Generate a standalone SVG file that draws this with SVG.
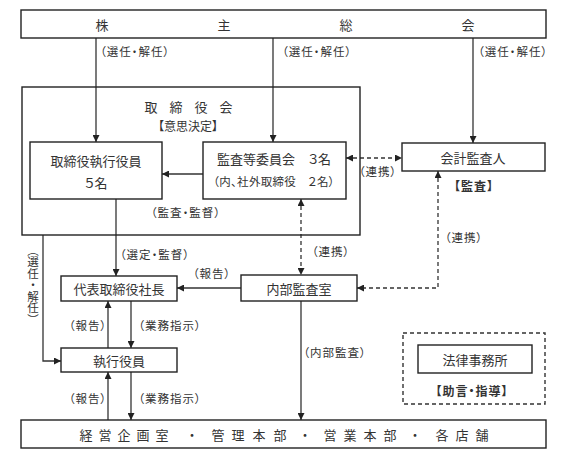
<svg xmlns="http://www.w3.org/2000/svg" width="570" height="466" viewBox="0 0 570 466">
<defs>
<style>
text{font-family:"Noto Sans CJK JP","Noto Sans CJK SC",sans-serif;fill:#333;dominant-baseline:central;font-feature-settings:"palt"}
.box{fill:#fff;stroke:#222;stroke-width:1.4}
.dbox{fill:none;stroke:#333;stroke-width:1.4;stroke-dasharray:4 3}
.t{font-size:13px;text-anchor:middle}
.l{font-size:11.5px;text-anchor:middle;letter-spacing:1px}
.b{font-size:12px;text-anchor:middle;font-weight:bold;letter-spacing:1px}
.ln{fill:none;stroke:#333;stroke-width:1.3}
.dl{fill:none;stroke:#333;stroke-width:1.3;stroke-dasharray:4 3}
.v{writing-mode:vertical-rl;font-feature-settings:normal;letter-spacing:0}
</style>
<marker id="ah" viewBox="0 0 10 10" refX="10" refY="5" markerWidth="8" markerHeight="7" markerUnits="userSpaceOnUse" orient="auto-start-reverse">
<path d="M0,0 L10,5 L0,10 z" fill="#222"/>
</marker>
</defs>
<rect width="570" height="466" fill="#fff"/>

<g id="connectors">
<path class="ln" d="M96,38 V142" marker-end="url(#ah)"/>
<path class="ln" d="M273,38 V142" marker-end="url(#ah)"/>
<path class="ln" d="M473,38 V143" marker-end="url(#ah)"/>
<path class="ln" d="M203,174 H162" marker-end="url(#ah)"/>
<path class="ln" d="M116,199 V276" marker-end="url(#ah)"/>
<path class="ln" d="M241,288 H177" marker-end="url(#ah)"/>
<path class="ln" d="M43,235 V361 H61" marker-end="url(#ah)"/>
<path class="ln" d="M108,348 V301" marker-end="url(#ah)"/>
<path class="ln" d="M131,301 V348" marker-end="url(#ah)"/>
<path class="ln" d="M108,420 V372" marker-end="url(#ah)"/>
<path class="ln" d="M131,372 V420" marker-end="url(#ah)"/>
<path class="ln" d="M301,301 V420" marker-end="url(#ah)"/>
<path class="dl" d="M346,158 H402" marker-start="url(#ah)" marker-end="url(#ah)"/>
<path class="dl" d="M301,199 V275" marker-start="url(#ah)" marker-end="url(#ah)"/>
<path class="dl" d="M438,171 V288 H357" marker-start="url(#ah)" marker-end="url(#ah)"/>
<text class="l" x="100" y="51" style="text-anchor:start">（選任・解任）</text>
<text class="l" x="282" y="51" style="text-anchor:start">（選任・解任）</text>
<text class="l" x="478" y="51" style="text-anchor:start">（選任・解任）</text>
<text class="l" x="186" y="212">（監査・監督）</text>
<text class="l" x="378" y="171">（連携）</text>
<text class="l" x="331" y="251">（連携）</text>
<text class="l" x="464" y="237">（連携）</text>
<text class="l" x="155" y="254">（選定・監督）</text>
<text class="l" x="212" y="273">（報告）</text>
<text class="l v" x="33" y="285">（選任・解任）</text>
<text class="l" x="88" y="325">（報告）</text>
<text class="l" x="170" y="325">（業務指示）</text>
<text class="l" x="88" y="398">（報告）</text>
<text class="l" x="170" y="398">（業務指示）</text>
<text class="l" x="335" y="352">（内部監査）</text>
</g>

<g id="shareholders">
<rect class="box" x="21" y="10" width="525" height="28"/>
<text class="t" x="102 224 346 468" y="24">株主総会</text>
</g>

<g id="board">
<rect class="box" x="22" y="87" width="338" height="148" style="fill:none"/>
<text class="t" x="151 176 201 226" y="106">取締役会</text>
<text class="l" x="188" y="125" style="font-size:12px;letter-spacing:0">【意思決定】</text>
</g>

<g id="exec-directors">
<rect class="box" x="30" y="142" width="132" height="57"/>
<text class="t" x="96" y="160">取締役執行役員</text>
<text class="t" x="96" y="182">５名</text>
</g>

<g id="audit-committee">
<rect class="box" x="203" y="142" width="143" height="57"/>
<text class="t" x="274" y="158">監査等委員会　３名</text>
<text class="l" x="274" y="181" style="letter-spacing:0.3px">（内、社外取締役　２名）</text>
</g>

<g id="accounting-auditor">
<rect class="box" x="402" y="143" width="143" height="28"/>
<text class="t" x="473" y="157">会計監査人</text>
<text class="b" x="474" y="185">【監査】</text>
</g>

<g id="president">
<rect class="box" x="61" y="276" width="116" height="25"/>
<text class="t" x="119" y="288.5">代表取締役社長</text>
</g>

<g id="internal-audit">
<rect class="box" x="241" y="275" width="116" height="26"/>
<text class="t" x="299" y="288">内部監査室</text>
</g>

<g id="exec-officers">
<rect class="box" x="61" y="348" width="116" height="24"/>
<text class="t" x="119" y="360">執行役員</text>
</g>

<g id="law-firm">
<rect class="dbox" x="403" y="333" width="142" height="71"/>
<rect class="box" x="418" y="345" width="114" height="28"/>
<text class="t" x="475" y="359">法律事務所</text>
<text class="b" x="472" y="390">【助言・指導】</text>
</g>

<g id="departments">
<rect class="box" x="21" y="420" width="525" height="28"/>
<text class="t" x="86 105 124 143 162 192 218 238 259 280 305 330 350 370 390 415 442 462 482" y="434">経営企画室・管理本部・営業本部・各店舗</text>
</g>
</svg>
